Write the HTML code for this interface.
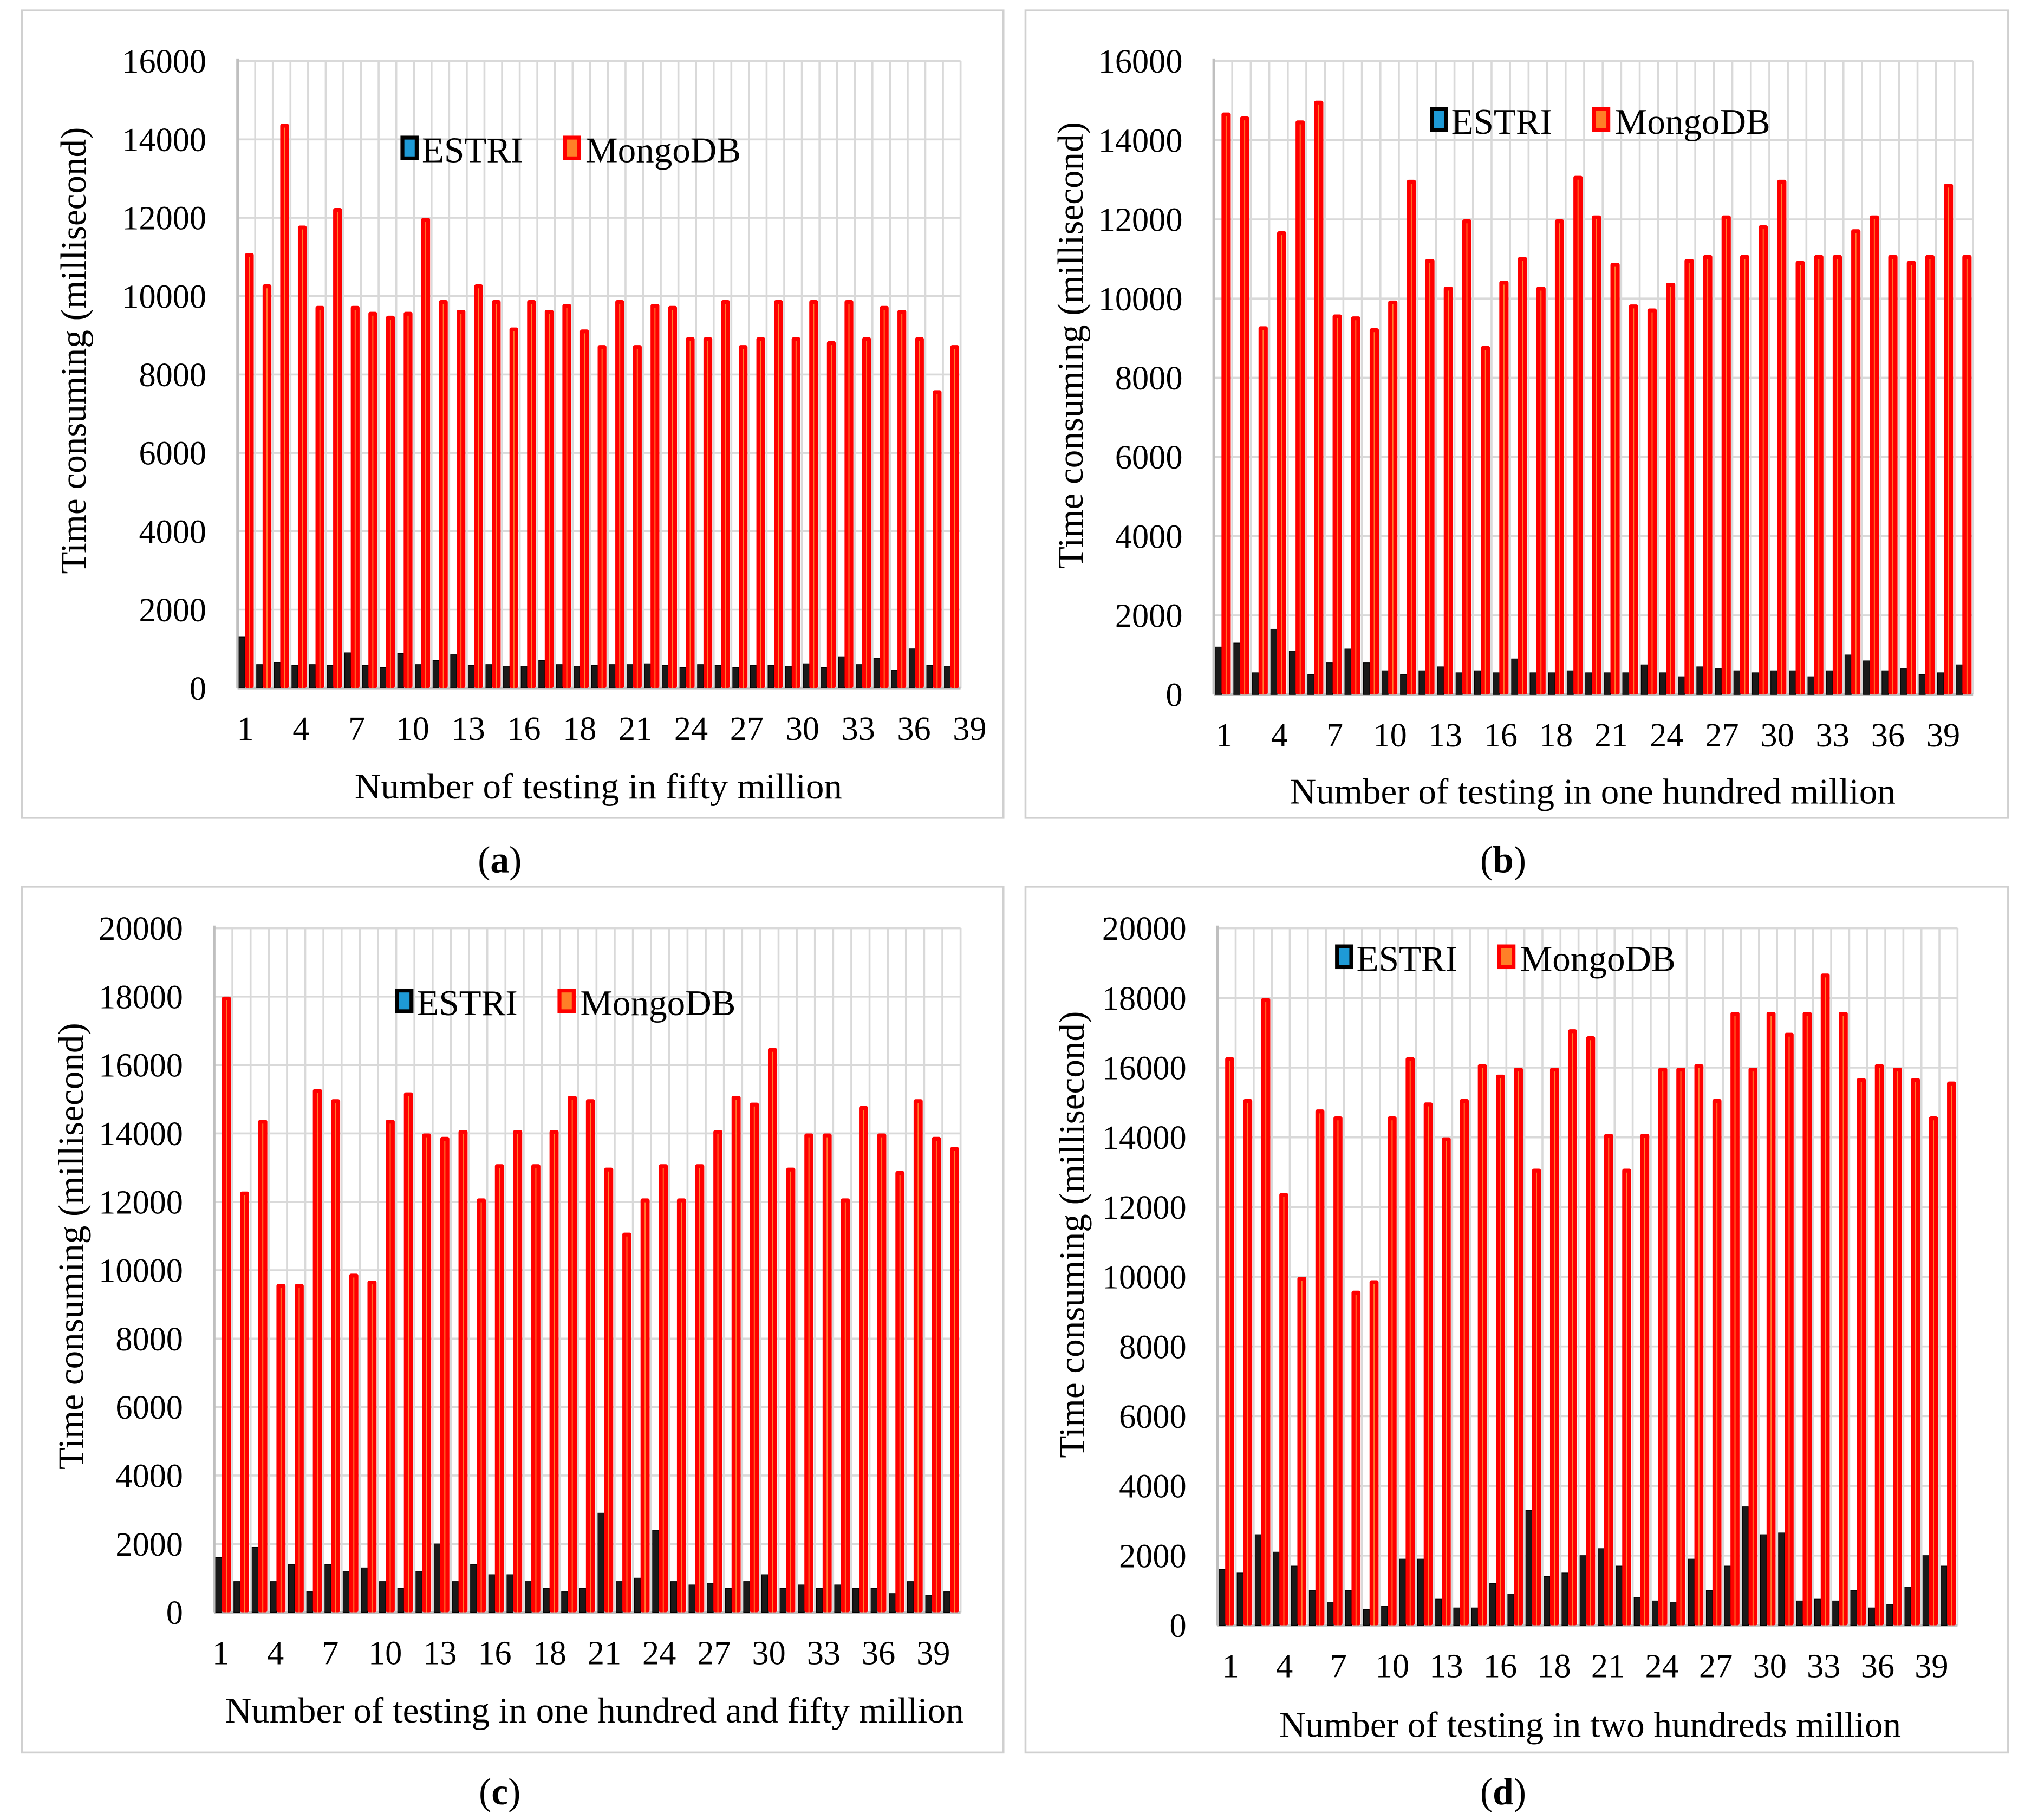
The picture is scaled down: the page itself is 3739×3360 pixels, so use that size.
<!DOCTYPE html>
<html><head><meta charset="utf-8"><style>
html,body{margin:0;padding:0;background:#fff;}
svg{display:block;font-family:"Liberation Serif",serif;}
</style></head><body>
<svg id="fig" width="3739" height="3360" viewBox="0 0 1560 1402" preserveAspectRatio="none" xmlns="http://www.w3.org/2000/svg"></svg>
<script>
const catCount = 41;
const aMongo = [11100,10300,14400,11800,9750,12250,9750,9600,9500,9600,12000,9900,9650,10300,9900,9200,9900,9650,9800,9150,8750,9900,8750,9800,9750,8950,8950,9900,8750,8950,9900,8950,9900,8850,9900,8950,9750,9650,8950,7600,8750];
const aEstri = [1300,600,650,580,600,580,900,580,520,880,600,700,850,580,600,560,560,700,600,560,580,600,600,620,580,520,600,580,520,580,580,560,620,520,800,600,760,450,1000,580,560];
const bMongo = [14700,14600,9300,11700,14500,15000,9600,9550,9250,9950,13000,11000,10300,12000,8800,10450,11050,10300,12000,13100,12100,10900,9850,9750,10400,11000,11100,12100,11100,11850,13000,10950,11100,11100,11750,12100,11100,10950,11100,12900,11100];
const bEstri = [1200,1300,550,1650,1100,500,800,1150,800,600,500,600,700,550,600,550,900,550,550,600,550,550,550,750,550,450,700,650,600,550,600,600,450,600,1000,850,600,650,500,550,750];
const cMongo = [18000,12300,14400,9600,9600,15300,15000,9900,9700,14400,15200,14000,13900,14100,12100,13100,14100,13100,14100,15100,15000,13000,11100,12100,13100,12100,13100,14100,15100,14900,16500,13000,14000,14000,12100,14800,14000,12900,15000,13900,13600];
const cEstri = [1600,900,1900,900,1400,600,1400,1200,1300,900,700,1200,2000,900,1400,1100,1100,900,700,600,700,2900,900,1000,2400,900,800,850,700,900,1100,700,800,700,800,700,700,550,900,500,600];
const dMongo = [16300,15100,18000,12400,10000,14800,14600,9600,9900,14600,16300,15000,14000,15100,16100,15800,16000,13100,16000,17100,16900,14100,13100,14100,16000,16000,16100,15100,17600,16000,17600,17000,17600,18700,17600,15700,16100,16000,15700,14600,15600];
const dEstri = [1600,1500,2600,2100,1700,1000,650,1000,450,550,1900,1900,750,500,500,1200,900,3300,1400,1500,2000,2200,1700,800,700,650,1900,1000,1700,3400,2600,2650,700,750,700,1000,500,600,1100,2000,1700];
const xTickLabels = ["1","4","7","10","13","16","18","21","24","27","30","33","36","39"];
const yTicks16 = [0,2000,4000,6000,8000,10000,12000,14000,16000];
const yTicks20 = [0,2000,4000,6000,8000,10000,12000,14000,16000,18000,20000];

const NS="http://www.w3.org/2000/svg";
const svg=document.getElementById('fig');
function mk(tag,attrs,parent){const e=document.createElementNS(NS,tag);for(const k in attrs)e.setAttribute(k,attrs[k]);(parent||svg).appendChild(e);return e;}

const panels=[
 {id:'a',box:[17,8,756,622],x0:183,x1:740,y0:530,yTop:47,max:16000,ticks:yTicks16,estri:aEstri,mongo:aMongo,lab0:189,labN:747,leg:[310,115],ytx:57,ytc:270,xt:[461,606],xtitle:"Number of testing in fifty million",cap:[385,662]},
 {id:'b',box:[790,8,757,622],x0:935,x1:1520,y0:535,yTop:47,max:16000,ticks:yTicks16,estri:bEstri,mongo:bMongo,lab0:943,labN:1497,leg:[1103,93],ytx:825,ytc:266,xt:[1227,610],xtitle:"Number of testing in one hundred million",cap:[1158,662]},
 {id:'c',box:[17,683,756,667],x0:165,x1:740,y0:1242,yTop:715,max:20000,ticks:yTicks20,estri:cEstri,mongo:cMongo,lab0:170,labN:719,leg:[306,772],ytx:55,ytc:960,xt:[458,1318],xtitle:"Number of testing in one hundred and fifty million",cap:[385,1380]},
 {id:'d',box:[790,683,757,667],x0:938,x1:1508,y0:1252,yTop:715,max:20000,ticks:yTicks20,estri:dEstri,mongo:dMongo,lab0:948,labN:1488,leg:[1030,738],ytx:826,ytc:951,xt:[1225,1329],xtitle:"Number of testing in two hundreds million",cap:[1158,1380]}
];

panels.forEach(p=>{
 const g=mk('g',{});
 
 
 const frame=mk('rect',{x:p.box[0],y:p.box[1],width:p.box[2],height:p.box[3],fill:'none',stroke:'#d0d0d0','stroke-width':1.5},g);
 
 
 const yScale=v=>p.y0-(v/p.max)*(p.y0-p.yTop);
 const w=(p.x1-p.x0)/catCount;
 p.ticks.forEach(t=>{
  const y=yScale(t);
  const gl=mk('line',{x1:p.x0,x2:p.x1,y1:y,y2:y,stroke:'#d9d9d9','stroke-width':1.5},g);
  
  
  const tl=mk('text',{x:p.x0-24,y:y+9,'text-anchor':'end','font-size':26,fill:'#000'},g);
  tl.textContent=t;
  
  
 });
 for(let i=1;i<=catCount;i++){
  const x=p.x0+i*w;
  const vl=mk('line',{x1:x,x2:x,y1:p.yTop,y2:p.y0,stroke:'#d9d9d9','stroke-width':1.5},g);
  
  
 }
 const ax=mk('line',{x1:p.x0,x2:p.x0,y1:p.yTop-2,y2:p.y0,stroke:'#bfbfbf','stroke-width':2},g);
 
 
 const bx=mk('line',{x1:p.x0,x2:p.x1,y1:p.y0,y2:p.y0,stroke:'#bfbfbf','stroke-width':2},g);
 
 
 for(let i=0;i<catCount;i++){
  const cx=p.x0+i*w;
  const ey=yScale(p.estri[i]);
  const eb=mk('rect',{x:cx+0.08*w,y:ey,width:0.34*w,height:p.y0-ey,fill:'#1a1a1a',stroke:'#000','stroke-width':0.5},g);
  
  
  const my=yScale(p.mongo[i]);
  const mb=mk('rect',{x:cx+0.42*w,y:my,width:0.5*w,height:p.y0-my,fill:'#ff0000',rx:1.5},g);
  
  
  const ml=mk('line',{x1:cx+0.67*w,x2:cx+0.67*w,y1:my+3,y2:p.y0,stroke:'#ff8030','stroke-width':0.8},g);
  
  
 }
 xTickLabels.forEach((s,k)=>{
  const x=p.lab0+k*(p.labN-p.lab0)/(xTickLabels.length-1);
  const t=mk('text',{x:x,y:p.y0+40,'text-anchor':'middle','font-size':26},g);
  t.textContent=s;
  
  
 });
 const yc=p.ytc;
 const yt=mk('text',{x:p.ytx,y:yc,'text-anchor':'middle','font-size':28,transform:`rotate(-90 ${p.ytx} ${yc})`,dy:9},g);
 yt.textContent='Time consuming (millisecond)';
 
 
 const xt=mk('text',{x:p.xt[0],y:p.xt[1]+9,'text-anchor':'middle','font-size':28},g);
 xt.textContent=p.xtitle;
 
 
 const lx=p.leg[0],ly=p.leg[1];
 const l1=mk('rect',{x:lx,y:ly-9,width:11,height:16,fill:'#1e9ad6',stroke:'#000','stroke-width':3},g);
 
 
 const t1=mk('text',{x:lx+15,y:ly+10,'font-size':28},g);
 t1.textContent='ESTRI';
 
 
 const l2=mk('rect',{x:lx+125,y:ly-9,width:11,height:16,fill:'#ff7f27',stroke:'#ff0000','stroke-width':3},g);
 
 
 const t2=mk('text',{x:lx+141,y:ly+10,'font-size':28},g);
 t2.textContent='MongoDB';
 
 
 const cap=mk('text',{x:p.cap[0],y:p.cap[1]+10,'text-anchor':'middle','font-size':29},svg);
 cap.innerHTML='(<tspan font-weight="bold">'+p.id+'</tspan>)';
 
 
});
</script>
</body></html>
